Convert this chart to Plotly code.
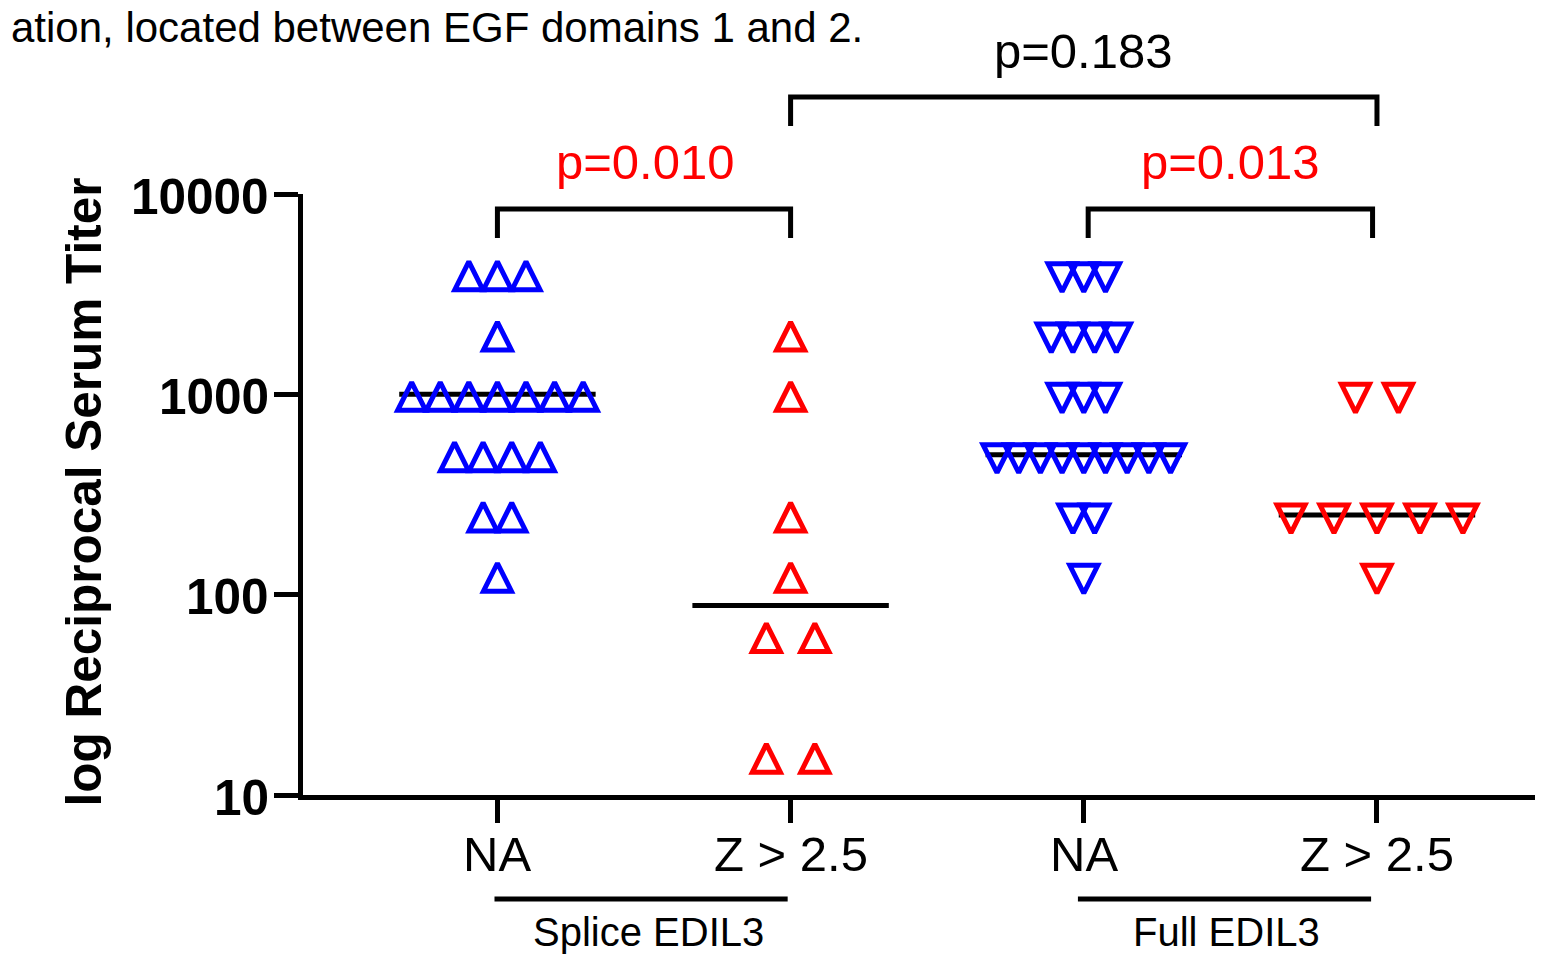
import numpy as np
import plotly.graph_objects as go

# ---------------- data ----------------
categories = ["NA", "Z > 2.5", "NA", "Z > 2.5"]
group_labels = ["Splice EDIL3", "Full EDIL3"]

splice_na = [4000, 4000, 4000, 2000, 1000, 1000, 1000, 1000, 1000, 1000, 1000,
             500, 500, 500, 500, 250, 250, 125]
splice_z = [2000, 1000, 250, 125, 62.5, 62.5, 15.625, 15.625]
full_na = [4000, 4000, 4000, 2000, 2000, 2000, 2000, 1000, 1000, 1000,
           500, 500, 500, 500, 500, 500, 500, 500, 500, 250, 250, 125]
full_z = [1000, 1000, 250, 250, 250, 250, 250, 125]

p_values = ["p=0.010", "p=0.013", "p=0.183"]
y_tick_vals = [10, 100, 1000, 10000]
y_tick_text = ["10", "100", "1000", "10000"]
caption = "ation, located between EGF domains 1 and 2."
y_title = "log Reciprocal Serum Titer"

# ---------------- style / layout ----------------
OFF = 8                      # page body margin of the html page
W, H = 1543 - OFF, 954 - OFF
L, T, B, R = 294.5, 186, 159, 0
PW, PH = W - L - R, H - T - B
CAT_PX = 293.3               # pixel distance between categories
X0_PX = 497 - OFF            # figure pixel of first category
XMIN = (L - X0_PX) / CAT_PX
XMAX = (W - R - X0_PX) / CAT_PX

BLUE = "#0000FF"
RED = "#FF0000"
FONT = "Liberation Sans, Arial, sans-serif"
LW = 5

groups = [splice_na, splice_z, full_na, full_z]
colors = [BLUE, RED, BLUE, RED]
pointing_up = [True, True, False, False]
spacing_px = [28.6, 48.5, 21.7, 43.0]
MSIZE = 28


def px_to_paper_x(page_px):
    return (page_px - OFF - L) / PW


def px_to_paper_y(page_py):
    return (H - B - (page_py - OFF)) / PH


def spread(values, center, step):
    xs = []
    counts = {}
    totals = {}
    for v in values:
        totals[v] = totals.get(v, 0) + 1
    for v in values:
        k = counts.get(v, 0)
        counts[v] = k + 1
        n = totals[v]
        xs.append(center + (k - (n - 1) / 2) * step)
    return xs


fig = go.Figure()

# median lines (median of log titers)
for i, vals in enumerate(groups):
    med = 10 ** np.median(np.log10(vals))
    fig.add_trace(go.Scatter(
        x=[i - 0.335, i + 0.335], y=[med, med], mode="lines",
        line=dict(color="black", width=LW), showlegend=False, hoverinfo="skip"))

# points (open triangles, height == width)
for i, vals in enumerate(groups):
    xs = spread(vals, i, spacing_px[i] / CAT_PX)
    fig.add_trace(go.Scatter(
        x=xs, y=vals, mode="markers", showlegend=False,
        marker=dict(symbol="arrow-down-open", size=MSIZE,
                    angle=180 if pointing_up[i] else 0,
                    standoff=MSIZE / 2 - 2 if pointing_up[i] else MSIZE / 2 + 4,
                    color=colors[i],
                    line=dict(color=colors[i], width=5))))

shapes = []
annotations = []


def bracket(x_a, x_b, y_top_px, y_bot_px):
    yt = px_to_paper_y(y_top_px)
    yb = px_to_paper_y(y_bot_px)
    shapes.append(dict(type="path", xref="x", yref="paper",
                       path=f"M {x_a},{yb} L {x_a},{yt} L {x_b},{yt} L {x_b},{yb}",
                       line=dict(color="black", width=LW)))


bracket(0.0, 1.0, 209, 238)
bracket(2.015, 2.985, 209, 238)
bracket(1.0, 3.0, 97, 126)

pfont = 49
annotations.append(dict(x=0.505, xref="x", y=px_to_paper_y(162), yref="paper",
                        text=p_values[0], showarrow=False, yanchor="middle",
                        font=dict(family=FONT, size=pfont, color=RED)))
annotations.append(dict(x=2.499, xref="x", y=px_to_paper_y(162), yref="paper",
                        text=p_values[1], showarrow=False, yanchor="middle",
                        font=dict(family=FONT, size=pfont, color=RED)))
annotations.append(dict(x=2.0, xref="x", y=px_to_paper_y(51), yref="paper",
                        text=p_values[2], showarrow=False, yanchor="middle",
                        font=dict(family=FONT, size=pfont, color="black")))

# x tick labels
for i, lab in enumerate(categories):
    annotations.append(dict(x=i, xref="x", y=px_to_paper_y(854), yref="paper",
                            text=lab, showarrow=False, yanchor="middle",
                            font=dict(family=FONT, size=49, color="black")))

# y tick labels
for v, lab in zip(y_tick_vals, y_tick_text):
    annotations.append(dict(x=px_to_paper_x(270), xref="paper", y=np.log10(v), yref="y",
                            text=lab, showarrow=False, xanchor="right", yanchor="middle",
                            yshift=-2,
                            font=dict(family=FONT, size=49.5, color="black", weight="bold")))

# group underlines and labels
for (xa, xb), xc, lab in zip([(-0.01, 0.99), (1.98, 2.98)], [0.515, 2.486], group_labels):
    yl = px_to_paper_y(899)
    shapes.append(dict(type="line", xref="x", yref="paper", x0=xa, x1=xb, y0=yl, y1=yl,
                       line=dict(color="black", width=LW)))
    annotations.append(dict(x=xc, xref="x", y=px_to_paper_y(932), yref="paper",
                            text=lab, showarrow=False, yanchor="middle",
                            font=dict(family=FONT, size=40, color="black")))

# caption (cropped in the source)
annotations.append(dict(x=px_to_paper_x(8), xref="paper", y=px_to_paper_y(27), yref="paper",
                        text=caption, showarrow=False, xanchor="left", yanchor="middle",
                        font=dict(family=FONT, size=42, color="black")))

# y-axis title
annotations.append(dict(x=px_to_paper_x(82), xref="paper", y=px_to_paper_y(492), yref="paper",
                        text=y_title, showarrow=False, textangle=-90,
                        xanchor="center", yanchor="middle",
                        font=dict(family=FONT, size=49.5, color="black", weight="bold")))

fig.update_layout(
    width=W, height=H,
    margin=dict(l=L, r=R, t=T, b=B, pad=0, autoexpand=False),
    paper_bgcolor="white", plot_bgcolor="white",
    shapes=shapes, annotations=annotations,
    xaxis=dict(range=[XMIN, XMAX], tickvals=[0, 1, 2, 3], showticklabels=False,
               ticks="outside", ticklen=23, tickwidth=LW, tickcolor="black",
               showline=True, linewidth=LW, linecolor="black",
               showgrid=False, zeroline=False),
    yaxis=dict(type="log", range=[1, 4], tickvals=y_tick_vals, showticklabels=False,
               ticks="outside", ticklen=24, tickwidth=LW, tickcolor="black",
               showline=True, linewidth=LW, linecolor="black",
               showgrid=False, zeroline=False),
)

fig.write_html("out.html")
